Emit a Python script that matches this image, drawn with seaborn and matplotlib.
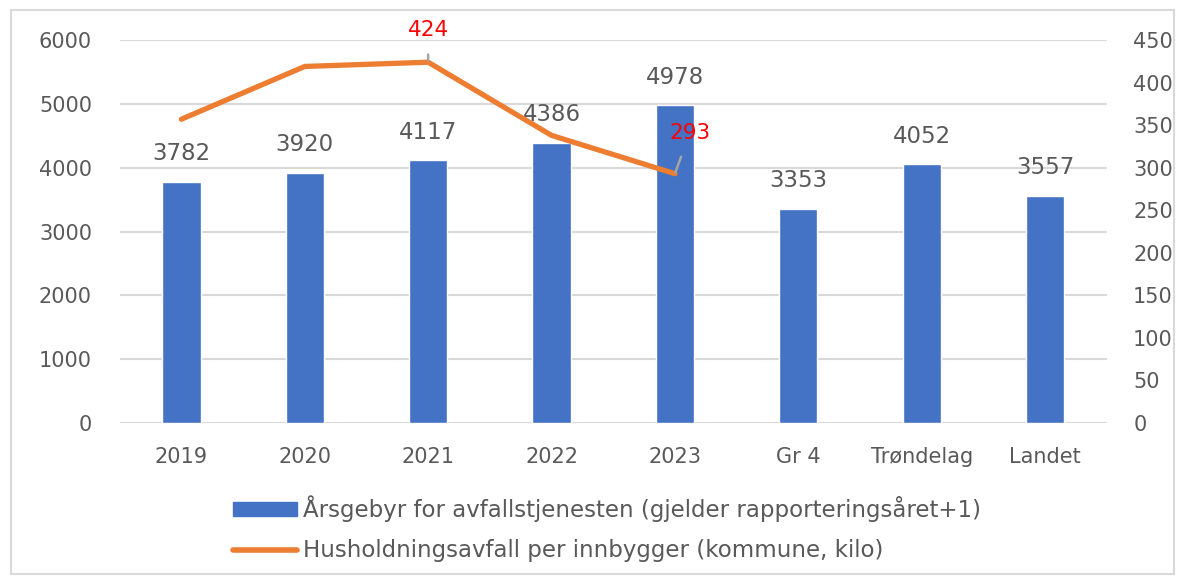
import matplotlib
matplotlib.use("Agg")
import matplotlib.pyplot as plt
import seaborn as sns
import pandas as pd
from matplotlib.patches import Rectangle
from matplotlib.lines import Line2D

# Data
categories = ["2019", "2020", "2021", "2022", "2023", "Gr 4", "Trøndelag", "Landet"]
fees = [3782, 3920, 4117, 4386, 4978, 3353, 4052, 3557]
waste_years = ["2019", "2020", "2021", "2022", "2023"]
waste_kg = [357, 419, 424, 338, 293]
fee_label = "Årsgebyr for avfallstjenesten (gjelder rapporteringsåret+1)"
waste_label = "Husholdningsavfall per innbygger (kommune, kilo)"

BLUE = "#4472C4"
ORANGE = "#ED7D31"
GRAY = "#595959"
GRID = "#D9D9D9"

sns.set_style("white")
plt.rcParams["font.family"] = ["DejaVu Sans"]

fig = plt.figure(figsize=(11.85, 5.81), dpi=100)
ax = fig.add_axes([0.101, 0.272, 0.833, 0.659])

df = pd.DataFrame({"cat": categories, "fee": fees})
sns.barplot(data=df, x="cat", y="fee", color=BLUE, width=0.31, ax=ax,
            saturation=1, zorder=2)
ax.set_ylim(0, 6000)
ax.set_yticks(range(0, 6001, 1000))
ax.set_xlim(-0.5, len(categories) - 0.5)
ax.yaxis.grid(True, color=GRID, lw=1.5, zorder=0)
ax.set_axisbelow(True)
for s in ax.spines.values():
    s.set_visible(False)
ax.set_xlabel("")
ax.set_ylabel("")
ax.tick_params(axis="x", length=0, labelsize=15, colors=GRAY, pad=17)
ax.tick_params(axis="y", length=0, labelsize=15, colors=GRAY, pad=20)

for i, v in enumerate(fees):
    ax.text(i, v + 260, str(v), ha="center", va="bottom", fontsize=16.5, color=GRAY)

ax2 = ax.twinx()
ldf = pd.DataFrame({"x": range(len(waste_years)), "kg": waste_kg})
sns.lineplot(data=ldf, x="x", y="kg", color=ORANGE, lw=3.8, ax=ax2,
             solid_capstyle="round", solid_joinstyle="round")
ax2.set_ylim(0, 450)
ax2.set_yticks(range(0, 451, 50))
for s in ax2.spines.values():
    s.set_visible(False)
ax2.set_xlabel("")
ax2.set_ylabel("")
ax2.tick_params(axis="y", length=0, labelsize=15, colors=GRAY, pad=19)

# red callout labels with leader lines
for idx, dx, dy in [(2, 0.0, 26), (4, 0.12, 36)]:
    x, y = idx, waste_kg[idx]
    ax2.annotate(str(y), xy=(x, y), xytext=(x + dx, y + dy),
                 ha="center", va="bottom", fontsize=15.5, color="red",
                 arrowprops=dict(arrowstyle="-", color="#A5A5A5", lw=1.8,
                                 shrinkA=8, shrinkB=1))

handles = [Rectangle((0, 0), 1, 1, color=BLUE),
           Line2D([0], [0], color=ORANGE, lw=4, solid_capstyle="round")]
fig.legend(handles, [fee_label, waste_label], loc="center",
           bbox_to_anchor=(0.512, 0.0895), frameon=False, fontsize=16.5,
           labelcolor=GRAY, handlelength=2.8, handleheight=0.55,
           handletextpad=0.25, labelspacing=0.75)

fig.patches.append(Rectangle((0.009, 0.012), 0.982, 0.97, transform=fig.transFigure,
                             fill=False, edgecolor=GRID, lw=1.5))

fig.savefig("out.png", dpi=100)
